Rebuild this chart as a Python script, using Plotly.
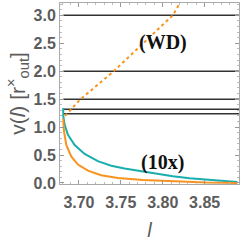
import plotly.graph_objects as go

# ---- data ----
teal_x = [3.6812, 3.6813, 3.6830, 3.6869, 3.6949, 3.7068, 3.7226, 3.7385, 3.7544, 3.7726, 3.7920, 3.8120, 3.8320, 3.8520, 3.8720, 3.8890]
teal_y = [1.34, 1.20, 1.04, 0.86, 0.68, 0.52, 0.39, 0.31, 0.26, 0.215, 0.165, 0.12, 0.085, 0.058, 0.035, 0.018]

orange_x = [3.6812, 3.6815, 3.6821, 3.6849, 3.6908, 3.6988, 3.7107, 3.7265, 3.7464, 3.7765, 3.8120, 3.8520, 3.8890]
orange_y = [1.15, 1.05, 0.93, 0.68, 0.475, 0.33, 0.22, 0.14, 0.09, 0.055, 0.03, 0.01, 0.002]

dotted_x = [3.6835, 3.7012, 3.7408, 3.8123, 3.8205]
dotted_y = [1.20, 1.49, 1.99, 3.005, 3.22]

hline_levels = [3.0, 2.0, 1.5, 1.32, 1.24]
hline_x = [3.6812, 3.895]

labels = [("(WD)", 3.80, 2.51), ("(10x)", 3.80, 0.36)]

fig = go.Figure()
for lv in hline_levels:
    fig.add_trace(go.Scatter(x=hline_x, y=[lv, lv], mode="lines",
                             line=dict(color="#333333", width=1.5), showlegend=False, hoverinfo="skip"))
fig.add_trace(go.Scatter(x=teal_x, y=teal_y, mode="lines",
                         line=dict(color="#1aadad", width=2), showlegend=False))
fig.add_trace(go.Scatter(x=orange_x, y=orange_y, mode="lines",
                         line=dict(color="#f7931e", width=2), showlegend=False))
fig.add_trace(go.Scatter(x=dotted_x, y=dotted_y, mode="lines",
                         line=dict(color="#f7931e", width=2, dash="dot"), showlegend=False))

for txt, ax, ay in labels:
    fig.add_annotation(x=ax, y=ay, text="<b>%s</b>" % txt, showarrow=False,
                       font=dict(family="Liberation Serif", size=20, color="#111111"))

tickfont = dict(family="Liberation Sans", size=16, color="#5c5c5c", weight="bold")
fig.update_xaxes(range=[3.6774, 3.891], tickvals=[3.70, 3.75, 3.80, 3.85],
                 ticktext=["3.70", "3.75", "3.80", "3.85"],
                 ticks="inside", ticklen=4, tickcolor="#999999", mirror="ticks",
                 showline=True, linecolor="#aaaaaa", linewidth=1, showgrid=False, zeroline=False,
                 minor=dict(ticks="inside", ticklen=2, dtick=0.01, tickcolor="#bbbbbb", showgrid=False),
                 tickfont=tickfont, automargin=False, ticklabelstandoff=4,
                 title=dict(text="<i>l</i>", font=dict(family="Liberation Sans", size=20, color="#5c5c5c"), standoff=18))
fig.update_yaxes(range=[-0.018, 3.22], tickvals=[0, 0.5, 1.0, 1.5, 2.0, 2.5, 3.0],
                 ticktext=["0.0", "0.5", "1.0", "1.5", "2.0", "2.5", "3.0"],
                 ticks="inside", ticklen=4, tickcolor="#999999", mirror="ticks",
                 showline=True, linecolor="#aaaaaa", linewidth=1, showgrid=False, zeroline=False,
                 minor=dict(ticks="inside", ticklen=2, dtick=0.1, tickcolor="#bbbbbb", showgrid=False),
                 tickfont=tickfont, automargin=False,
                 title=dict(text="v(<i>l</i>) [r<sup>×</sup><sub>out</sub>]",
                            font=dict(family="Liberation Sans", size=21, color="#5c5c5c"), standoff=2))
fig.update_layout(width=245, height=241, margin=dict(l=60, r=6, t=3, b=57),
                  paper_bgcolor="white", plot_bgcolor="white", showlegend=False)
fig.write_html("out.html", config={"displayModeBar": False},
               post_script="document.body.style.margin='0';document.body.style.padding='0';")
